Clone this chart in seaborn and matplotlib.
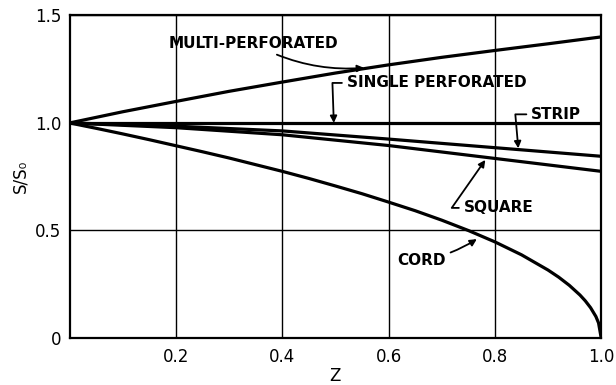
import matplotlib
matplotlib.use("Agg")
import matplotlib.pyplot as plt
import seaborn as sns
import pandas as pd

# ---- data ----
z_multi = [0.0, 0.1, 0.2, 0.3, 0.4, 0.5, 0.6, 0.7, 0.8, 0.9, 1.0]
s_multi = [1.0, 1.052, 1.10, 1.147, 1.19, 1.232, 1.27, 1.305, 1.337, 1.368, 1.40]

z_single = [0.0, 1.0]
s_single = [1.0, 1.0]

z_strip = [0.0, 0.2, 0.4, 0.6, 0.8, 1.0]
s_strip = [1.0, 0.985, 0.963, 0.925, 0.885, 0.845]

z_square = [0.0, 0.2, 0.4, 0.6, 0.8, 1.0]
s_square = [1.0, 0.978, 0.945, 0.895, 0.835, 0.775]

z_cord = [0.0, 0.05, 0.1, 0.15, 0.2, 0.25, 0.3, 0.35, 0.4, 0.45, 0.5, 0.55, 0.6,
          0.65, 0.7, 0.75, 0.8, 0.85, 0.9, 0.92, 0.94, 0.96, 0.97, 0.98, 0.99,
          0.995, 1.0]
s_cord = [1.0, 0.975, 0.949, 0.922, 0.894, 0.866, 0.837, 0.806, 0.775, 0.742,
          0.707, 0.671, 0.632, 0.592, 0.548, 0.50, 0.447, 0.387, 0.316, 0.283,
          0.245, 0.20, 0.173, 0.141, 0.10, 0.07, 0.0]

x_ticks = [0.2, 0.4, 0.6, 0.8, 1.0]
x_ticklabels = ["0.2", "0.4", "0.6", "0.8", "1.0"]
y_ticks = [0.0, 0.5, 1.0, 1.5]
y_ticklabels = ["0", "0.5", "1.0", "1.5"]

series = [
    ("MULTI-PERFORATED", z_multi, s_multi),
    ("SINGLE PERFORATED", z_single, s_single),
    ("STRIP", z_strip, s_strip),
    ("SQUARE", z_square, s_square),
    ("CORD", z_cord, s_cord),
]

sns.set_style("white")
plt.rcParams['font.family'] = ['DejaVu Sans']
plt.rcParams['text.color'] = 'black'

fig = plt.figure(figsize=(6.16, 3.85), dpi=100)
ax = fig.add_axes([0.113, 0.122, 0.863, 0.838])

for name, zz, ss in series:
    df = pd.DataFrame({"z": zz, "s": ss})
    sns.lineplot(data=df, x="z", y="s", ax=ax, color="black", linewidth=2.3,
                 sort=False, estimator=None)

ax.set_xlim(0, 1.0)
ax.set_ylim(0, 1.5)
ax.set_xticks(x_ticks)
ax.set_xticklabels(x_ticklabels)
ax.set_yticks(y_ticks)
ax.set_yticklabels(y_ticklabels)
ax.tick_params(axis='both', length=0, labelsize=12, colors='black')
ax.tick_params(axis='x', pad=7)
ax.tick_params(axis='y', pad=6)
ax.grid(True, color='black', linewidth=1.0)
for sp in ax.spines.values():
    sp.set_color('black')
    sp.set_linewidth(1.6)

ax.set_xlabel("Z", fontsize=12, labelpad=1, color='black')
ax.set_ylabel("S/S₀", fontsize=12, labelpad=4, color='black')

afs = 11
tkw = dict(fontsize=afs, fontweight='bold', color='black', va='center')
arrow = dict(arrowstyle='-|>', color='black', lw=1.3, mutation_scale=10, shrinkA=1, shrinkB=0)

ax.annotate("MULTI-PERFORATED", xy=(0.554, 1.256), xytext=(0.505, 1.37),
            ha='right', **tkw,
            arrowprops=dict(arrow, connectionstyle="arc3,rad=0.15"))
ax.annotate("SINGLE PERFORATED", xy=(0.497, 1.0), xytext=(0.521, 1.186),
            ha='left', **tkw,
            arrowprops=dict(arrow, connectionstyle="angle,angleA=180,angleB=92,rad=0"))
ax.annotate("STRIP", xy=(0.844, 0.882), xytext=(0.868, 1.04),
            ha='left', **tkw,
            arrowprops=dict(arrow, connectionstyle="angle,angleA=180,angleB=95,rad=0"))
ax.annotate("SQUARE", xy=(0.782, 0.828), xytext=(0.741, 0.605),
            ha='left', **tkw,
            arrowprops=dict(arrow, connectionstyle="angle,angleA=180,angleB=55,rad=0"))
ax.annotate("CORD", xy=(0.766, 0.46), xytext=(0.708, 0.36),
            ha='right', **tkw,
            arrowprops=dict(arrow, connectionstyle="arc3,rad=0.1"))

fig.savefig("out.png", dpi=100)
